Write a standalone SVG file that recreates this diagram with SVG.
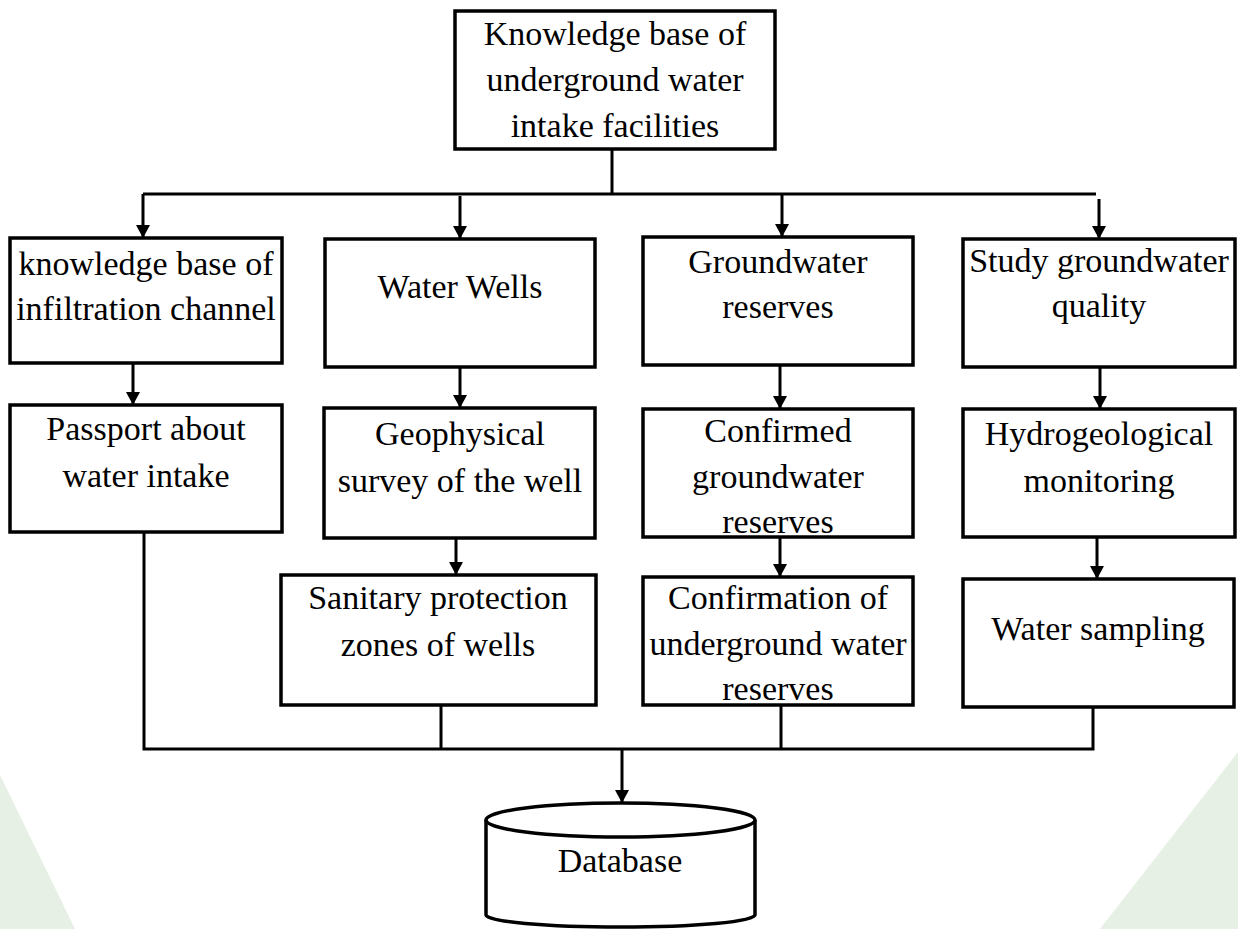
<svg xmlns="http://www.w3.org/2000/svg" width="1238" height="929" viewBox="0 0 1238 929">
<style>
.box{fill:#fff;stroke:#000;stroke-width:3.5}
.ln{fill:none;stroke:#000;stroke-width:3}
.t{font-family:"Liberation Serif","Times New Roman",serif;font-size:34px;text-anchor:middle;fill:#000}
.wm{fill:#e6f0e4;stroke:none}
</style>
<defs>
<marker id="ah" markerUnits="userSpaceOnUse" viewBox="0 -7 13 14" refX="13" refY="0" markerWidth="13" markerHeight="14" orient="auto">
<path d="M0,-7 L13,0 L0,7 z" fill="#000"/>
</marker>
</defs>
<rect width="1238" height="929" fill="#fff"/>
<g id="watermark">
<polygon class="wm" points="0,775 75,929 0,929"/>
<polygon class="wm" points="1238,752 1238,929 1100,929"/>
</g>
<g id="connectors">
<line class="ln" x1="612" y1="149" x2="612" y2="194"/>
<line class="ln" x1="143" y1="194" x2="1096" y2="194"/>
<line class="ln" x1="143" y1="194" x2="143" y2="238" marker-end="url(#ah)"/>
<line class="ln" x1="460" y1="196" x2="460" y2="239" marker-end="url(#ah)"/>
<line class="ln" x1="782" y1="194" x2="782" y2="237" marker-end="url(#ah)"/>
<line class="ln" x1="1099" y1="199" x2="1099" y2="239" marker-end="url(#ah)"/>
<line class="ln" x1="133" y1="363" x2="133" y2="405" marker-end="url(#ah)"/>
<line class="ln" x1="460" y1="367" x2="460" y2="408" marker-end="url(#ah)"/>
<line class="ln" x1="780" y1="365" x2="780" y2="409" marker-end="url(#ah)"/>
<line class="ln" x1="1100" y1="367" x2="1100" y2="409" marker-end="url(#ah)"/>
<line class="ln" x1="456" y1="538" x2="456" y2="575" marker-end="url(#ah)"/>
<line class="ln" x1="780" y1="537" x2="780" y2="577" marker-end="url(#ah)"/>
<line class="ln" x1="1097" y1="537" x2="1097" y2="579" marker-end="url(#ah)"/>
<polyline class="ln" points="144,532 144,749 1093,749 1093,707"/>
<line class="ln" x1="441" y1="705" x2="441" y2="749"/>
<line class="ln" x1="781" y1="705" x2="781" y2="749"/>
<line class="ln" x1="622" y1="749" x2="622" y2="803" marker-end="url(#ah)"/>
</g>
<g id="n-root">
<rect class="box" x="455" y="11" width="320" height="138"/>
<text class="t" x="615" y="45">Knowledge base of</text>
<text class="t" x="615" y="91">underground water</text>
<text class="t" x="615" y="137">intake facilities</text>
</g>
<g id="n-infiltration">
<rect class="box" x="10" y="238" width="272" height="125"/>
<text class="t" x="146" y="275">knowledge base of</text>
<text class="t" x="146" y="320">infiltration channel</text>
</g>
<g id="n-wells">
<rect class="box" x="325" y="239" width="270" height="128"/>
<text class="t" x="460" y="298">Water Wells</text>
</g>
<g id="n-reserves">
<rect class="box" x="643" y="237" width="270" height="128"/>
<text class="t" x="778" y="273">Groundwater</text>
<text class="t" x="778" y="318">reserves</text>
</g>
<g id="n-quality">
<rect class="box" x="963" y="239" width="272" height="128"/>
<text class="t" x="1099" y="272">Study groundwater</text>
<text class="t" x="1099" y="317">quality</text>
</g>
<g id="n-passport">
<rect class="box" x="10" y="405" width="272" height="127"/>
<text class="t" x="146" y="440">Passport about</text>
<text class="t" x="146" y="487">water intake</text>
</g>
<g id="n-geophysical">
<rect class="box" x="324" y="408" width="271" height="130"/>
<text class="t" x="460" y="445">Geophysical</text>
<text class="t" x="460" y="492">survey of the well</text>
</g>
<g id="n-confirmed">
<rect class="box" x="643" y="409" width="270" height="128"/>
<text class="t" x="778" y="442">Confirmed</text>
<text class="t" x="778" y="488">groundwater</text>
<text class="t" x="778" y="533">reserves</text>
</g>
<g id="n-hydro">
<rect class="box" x="963" y="409" width="272" height="128"/>
<text class="t" x="1099" y="445">Hydrogeological</text>
<text class="t" x="1099" y="492">monitoring</text>
</g>
<g id="n-sanitary">
<rect class="box" x="281" y="575" width="315" height="130"/>
<text class="t" x="438" y="609">Sanitary protection</text>
<text class="t" x="438" y="656">zones of wells</text>
</g>
<g id="n-confirmation">
<rect class="box" x="643" y="577" width="270" height="128"/>
<text class="t" x="778" y="609">Confirmation of</text>
<text class="t" x="778" y="655">underground water</text>
<text class="t" x="778" y="700">reserves</text>
</g>
<g id="n-sampling">
<rect class="box" x="963" y="579" width="271" height="128"/>
<text class="t" x="1098" y="640">Water sampling</text>
</g>
<g id="n-database">
<path class="box" d="M486,820 L486,915 A134,12 0 0 0 755,915 L755,820"/>
<ellipse class="box" cx="620.5" cy="820" rx="134.5" ry="17"/>
<text class="t" x="620" y="872">Database</text>
</g>
</svg>
